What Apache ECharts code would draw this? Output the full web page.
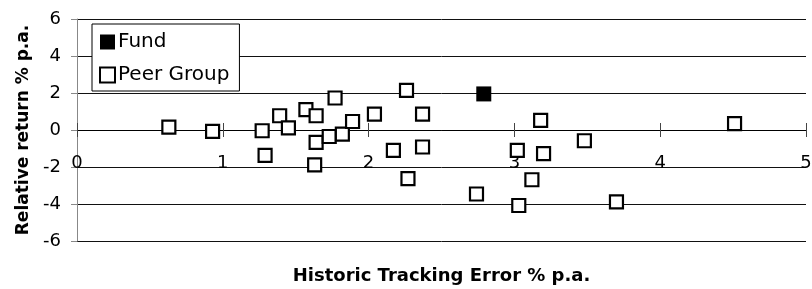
<!DOCTYPE html>
<html lang="en">
<head>
  <meta charset="UTF-8">
  <title>Relative return vs tracking error</title>
  <script src="https://cdn.jsdelivr.net/npm/echarts@6/dist/echarts.min.js"></script>
  <style>
    html, body { margin: 0; padding: 0; background: #fff; }
    #target { width: 812px; height: 289px; }
  </style>
</head>
<body>
  <div id="target"></div>
  <script>
    // values
    const fundX = [2.79];
    const fundY = [1.95];
    const peerX = [0.63, 0.93, 1.27, 1.29, 1.39, 1.45, 1.57, 1.64, 1.64, 1.63,
                   1.73, 1.77, 1.82, 1.89, 2.04, 2.17, 2.26, 2.37, 2.37, 2.27,
                   2.74, 3.02, 3.03, 3.12, 3.18, 3.20, 3.48, 3.70, 4.51];
    const peerY = [0.16, -0.07, -0.04, -1.37, 0.77, 0.11, 1.10, 0.77, -0.67, -1.88,
                   -0.35, 1.73, -0.22, 0.46, 0.86, -1.10, 2.14, 0.86, -0.92, -2.63,
                   -3.46, -1.10, -4.08, -2.69, 0.52, -1.28, -0.58, -3.89, 0.34];
    const xTicks = [0, 5, 1];   // min, max, interval
    const yTicks = [-6, 6, 2];

    const font = 'DejaVu Sans';
    const pairs = (xs, ys) => xs.map((x, i) => [x, ys[i]]);

    // x axis sits on y = 0 (middle of the grid); onZero does not kick in here, so shift it up
    const zeroShift = -111;

    const option = {
      animation: false,
      backgroundColor: '#fff',
      textStyle: { fontFamily: font, color: '#000' },
      grid: { left: 77, right: 6, top: 19, bottom: 48, outerBoundsMode: 'none', containLabel: false },
      legend: {
        orient: 'vertical',
        left: 92,
        top: 24,
        padding: [8, 10, 6, 7],
        itemGap: 13,
        itemWidth: 15,
        itemHeight: 15,
        borderColor: '#000',
        borderWidth: 1,
        backgroundColor: '#fff',
        textStyle: { fontFamily: font, fontSize: 20, color: '#000', padding: [0, 0, 0, -2] },
        data: [
          { name: 'Fund', icon: 'rect' },
          { name: 'Peer Group', icon: 'rect' }
        ]
      },
      xAxis: [
        {
          type: 'value',
          position: 'bottom',
          offset: zeroShift,
          min: xTicks[0], max: xTicks[1], interval: xTicks[2],
          name: 'Historic Tracking Error % p.a.',
          nameLocation: 'middle',
          nameGap: 137,
          nameTextStyle: { fontFamily: font, fontSize: 18, fontWeight: 'bold', color: '#000' },
          axisLine: { show: true, onZero: false, lineStyle: { color: '#000', width: 1 } },
          axisTick: { show: true, inside: false, length: 7, lineStyle: { color: '#444' } },
          axisLabel: { margin: 24, fontSize: 18, color: '#000', fontFamily: font },
          splitLine: { show: false }
        },
        {
          type: 'value',
          position: 'bottom',
          offset: zeroShift,
          min: xTicks[0], max: xTicks[1], interval: xTicks[2],
          axisLine: { show: false, onZero: false },
          axisTick: { show: true, inside: true, length: 7, lineStyle: { color: '#444' } },
          axisLabel: { show: false },
          splitLine: { show: false }
        }
      ],
      yAxis: {
        type: 'value',
        min: yTicks[0], max: yTicks[1], interval: yTicks[2],
        name: 'Relative return % p.a.',
        nameLocation: 'middle',
        nameGap: 44,
        nameTextStyle: { fontFamily: font, fontSize: 17, fontWeight: 'bold', color: '#000' },
        axisLine: { show: true, onZero: false, lineStyle: { color: '#888', width: 1 } },
        axisTick: { show: true, length: 6, lineStyle: { color: '#888' } },
        axisLabel: { margin: 16, fontSize: 18, color: '#000', fontFamily: font },
        splitLine: { show: true, lineStyle: { color: '#111', width: 1 } }
      },
      series: [
        {
          name: 'Fund',
          type: 'scatter',
          symbol: 'rect',
          symbolSize: 15,
          itemStyle: { color: '#000', borderColor: '#000', borderWidth: 0, opacity: 1 },
          data: pairs(fundX, fundY),
          z: 3
        },
        {
          name: 'Peer Group',
          type: 'scatter',
          symbol: 'rect',
          symbolSize: 13,
          itemStyle: { color: '#fff', borderColor: '#000', borderWidth: 2.2, opacity: 1 },
          data: pairs(peerX, peerY),
          z: 2
        }
      ]
    };
    echarts.init(document.getElementById('target')).setOption(option);
  </script>
</body>
</html>
